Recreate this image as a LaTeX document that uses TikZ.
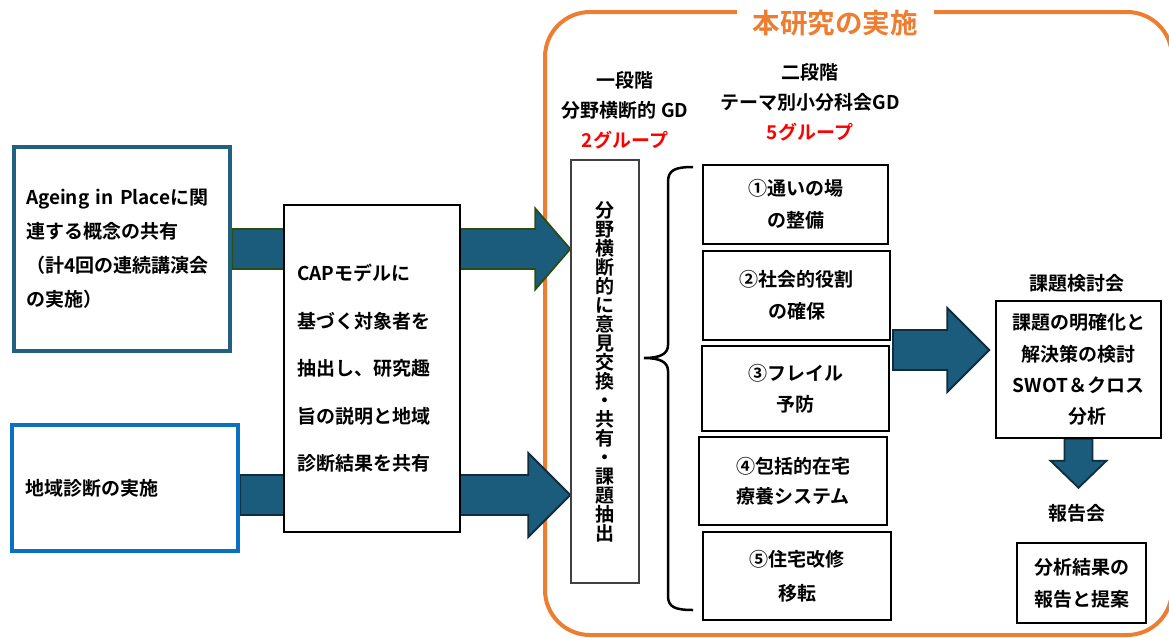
\documentclass[tikz,border=0pt]{standalone}
\usepackage{fontspec}
\setmainfont{Noto Sans CJK JP}[BoldFont={Noto Sans CJK JP Bold}]
\usetikzlibrary{calc}
\definecolor{orng}{HTML}{ED7D31}
\definecolor{arrowfill}{HTML}{1B5C7C}
\definecolor{arrowgreen}{HTML}{2A4D14}
\definecolor{arrownavy}{HTML}{0F2D3D}
\definecolor{tealbox}{HTML}{22607F}
\definecolor{bluebox}{HTML}{0A70C0}
\definecolor{grayline}{HTML}{404040}
\pgfdeclarelayer{framelayer}
\pgfdeclarelayer{arrowlayer}
\pgfsetlayers{framelayer,arrowlayer,main}
\newcommand\hblockarrow[6]{%
  \draw[draw=#6, fill=arrowfill, line width=1.8pt, line join=miter]
    let \p1=(#1), \p2=(#2) in
    (\x1,\y1+#3pt) -- (\x2-#5pt,\y1+#3pt) -- (\x2-#5pt,\y1+#4pt) -- (\x2,\y1)
    -- (\x2-#5pt,\y1-#4pt) -- (\x2-#5pt,\y1-#3pt) -- (\x1,\y1-#3pt) -- cycle;}
\newcommand\vblockarrow[6]{%
  \draw[draw=#6, fill=arrowfill, line width=1.8pt, line join=miter]
    let \p1=(#1), \p2=(#2) in
    (\x1+#3pt,\y1) -- (\x1+#3pt,\y2+#5pt) -- (\x1+#4pt,\y2+#5pt) -- (\x1,\y2)
    -- (\x1-#4pt,\y2+#5pt) -- (\x1-#3pt,\y2+#5pt) -- (\x1-#3pt,\y1) -- cycle;}
\tikzset{
  jp/.style={font=\fontsize{19}{#1}\selectfont\bfseries},
  plainbox/.style={draw=black, line width=1.5pt, fill=white, inner sep=0pt, align=center},
}
\begin{document}
\begin{tikzpicture}[x=1pt,y=-1pt]
\useasboundingbox (0,0) rectangle (1169,637);
\clip (0,0) rectangle (1169,637);

% left boxes
\node[draw=tealbox, line width=4pt, fill=white, minimum width=216pt, minimum height=204pt,
      text width=192pt, align=left, inner sep=0pt, jp=34] (box1) at (122,249)
  {Ageing in Placeに関\\連する概念の共有\\（計4回の連続講演会\\の実施）};
\node[draw=bluebox, line width=4pt, fill=white, minimum width=226pt, minimum height=126pt,
      text width=200pt, align=left, inner sep=0pt, jp=24] (box2) at (125,488)
  {地域診断の実施};

% CAP box
\node[plainbox, minimum width=176pt, minimum height=327pt, text width=150pt, align=left, jp=47.5]
  (cap) at (372,368.5)
  {CAPモデルに\\基づく対象者を\\抽出し、研究趣\\旨の説明と地域\\診断結果を共有};

% title and headers
\node[fill=white, text=orng, font=\fontsize{27.5}{28}\selectfont\bfseries, inner xsep=16pt, inner ysep=2pt]
  (title) at (835,23) {本研究の実施};
\node[inner sep=0pt, align=center, jp=30] (h1) at (625,110)
  {一段階\\分野横断的 GD\\\textcolor{red}{2グループ}};
\node[inner sep=0pt, align=center, jp=30] (h2) at (810,102)
  {二段階\\テーマ別小分科会GD\\\textcolor{red}{5グループ}};

% vertical box
\node[draw=grayline, line width=1.5pt, fill=white, minimum width=68pt, minimum height=423pt,
      inner sep=0pt, align=center, jp=19] (vbox) at (605,371.5)
  {分\\野\\横\\断\\的\\に\\意\\見\\交\\換\\・\\共\\有\\・\\課\\題\\抽\\出};

% brace
\draw[line width=2.5pt] (693,167) .. controls (675,167) and (668,170) .. (668,182)
  -- (668,345) .. controls (668,354) and (660,358) .. (644,358)
  .. controls (660,358) and (668,362) .. (668,371)
  -- (668,596) .. controls (668,607) and (675,610) .. (693,610);

% group boxes
\node[plainbox, minimum width=185pt, minimum height=79pt, jp=32] (g1) at (795.5,204.5) {①通いの場\\の整備};
\node[plainbox, minimum width=187pt, minimum height=89pt, jp=32] (g2) at (796.5,295.5) {②社会的役割\\の確保};
\node[plainbox, minimum width=187pt, minimum height=85pt, jp=31] (g3) at (795.5,388.5) {③フレイル\\予防};
\node[plainbox, minimum width=188pt, minimum height=88pt, jp=30] (g4) at (793,481) {④包括的在宅\\療養システム};
\node[plainbox, minimum width=188pt, minimum height=88pt, jp=34] (g5) at (797,576) {⑤住宅改修\\移転};

% right side
\node[inner sep=0pt, jp=20] (kadailbl) at (1077,283) {課題検討会};
\node[plainbox, minimum width=165pt, minimum height=137pt, jp=31.3] (kadai) at (1078.5,369.5)
  {課題の明確化と\\解決策の検討\\SWOT＆クロス\\\hspace{18pt}分析};
\node[inner sep=0pt, jp=20] (hokokulbl) at (1077,513) {報告会};
\node[plainbox, minimum width=129pt, minimum height=80pt, jp=32] (hokoku) at (1081.5,583)
  {分析結果の\\報告と提案};

\coordinate (rstart) at (893,350);

\begin{pgfonlayer}{framelayer}
  \draw[orng, line width=4pt, rounded corners=45pt] (545,12) rectangle (1172,635);
\end{pgfonlayer}

\begin{pgfonlayer}{arrowlayer}
  \hblockarrow{box1.east}{vbox.west}{20}{40.5}{35}{arrowgreen}
  \hblockarrow{$(box2.east)+(0,7)$}{vbox.west}{20}{42}{42}{arrownavy}
  \hblockarrow{rstart}{$(kadai.west)+(-6,0)$}{20}{42}{42}{arrownavy}
  \vblockarrow{kadai.south}{$(kadai.south)+(0,49)$}{14}{28}{27}{arrownavy}
\end{pgfonlayer}
\end{tikzpicture}
\end{document}
